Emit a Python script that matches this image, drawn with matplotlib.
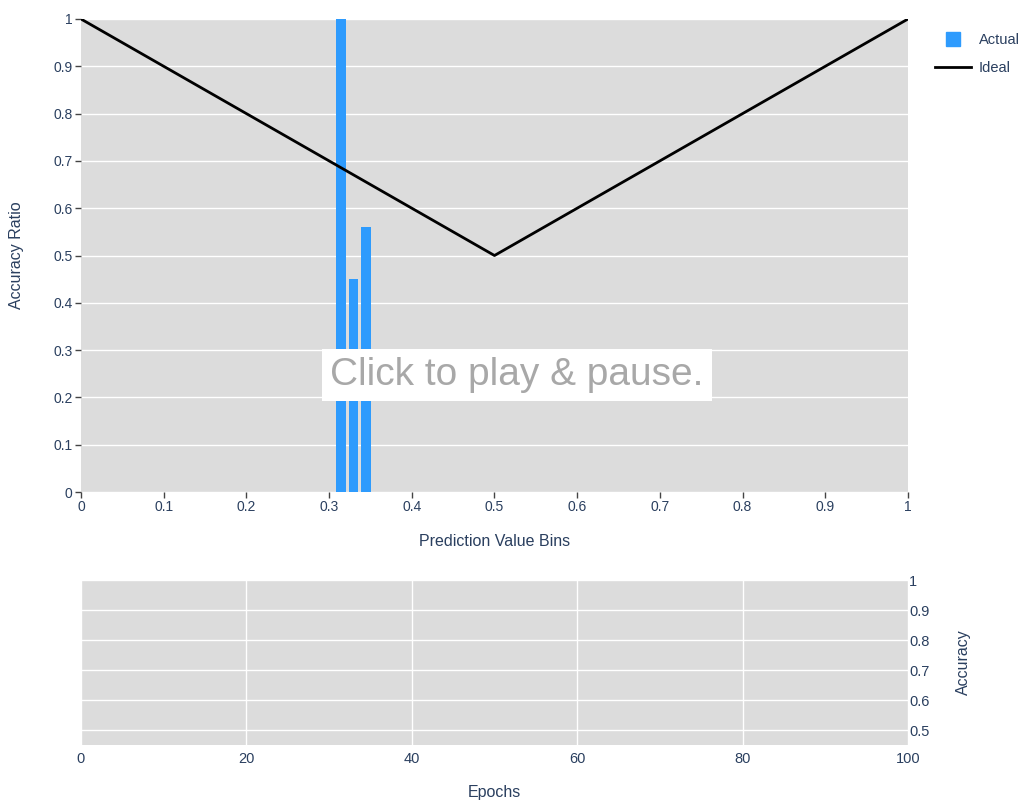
import matplotlib.pyplot as plt
from matplotlib.ticker import FuncFormatter
from matplotlib.lines import Line2D

plt.rcParams['font.family'] = ['Liberation Sans', 'DejaVu Sans']

# data
bin_centers = [0.3145, 0.3295, 0.3445]
bin_acc = [1.0, 0.45, 0.56]
ideal_x = [0, 0.5, 1]
ideal_y = [1, 0.5, 1]
x_ticks = [0, 0.1, 0.2, 0.3, 0.4, 0.5, 0.6, 0.7, 0.8, 0.9, 1]
y_ticks = [0, 0.1, 0.2, 0.3, 0.4, 0.5, 0.6, 0.7, 0.8, 0.9, 1]
epoch_ticks = [0, 20, 40, 60, 80, 100]
acc_ticks = [0.5, 0.6, 0.7, 0.8, 0.9, 1]

txt = '#2a3f5f'
bg = '#dcdcdc'
bar_col = '#2e9bfd'

fig = plt.figure(figsize=(10.24, 8.05), dpi=100)
fmt = FuncFormatter(lambda v, p: '%g' % round(v, 2))

# top plot
ax = fig.add_axes([0.0791, 0.3888, 0.8076, 0.5876])
ax.set_facecolor(bg)
for s in ax.spines.values():
    s.set_visible(False)
ax.set_axisbelow(True)
ax.grid(True, axis='y', color='white', linewidth=1)
ax.bar(bin_centers, bin_acc, width=0.0118, color=bar_col, label='Actual')
ax.plot(ideal_x, ideal_y, color='black', linewidth=2, label='Ideal')
ax.set_xlim(0, 1)
ax.set_ylim(0, 1)
ax.set_xticks(x_ticks)
ax.set_yticks(y_ticks)
ax.xaxis.set_major_formatter(fmt)
ax.yaxis.set_major_formatter(fmt)
ax.tick_params(axis='both', labelsize=10, colors='#444444', labelcolor=txt, length=4, width=1, pad=2)
ax.set_xlabel('Prediction Value Bins', fontsize=11.5, color=txt, labelpad=14)
ax.set_ylabel('Accuracy Ratio', fontsize=11.5, color=txt, labelpad=21)

handles = [Line2D([0], [0], marker='s', markersize=10, color=bar_col, linestyle='none'),
           Line2D([0], [0], color='black', linewidth=2)]
fig.legend(handles, ['Actual', 'Ideal'], loc='upper left', bbox_to_anchor=(0.9, 0.975),
           frameon=False, fontsize=10.5, labelcolor=txt, handlelength=2.5,
           handletextpad=0.5, labelspacing=0.95)

ax.text(0.527, 0.247, 'Click to play & pause.', transform=ax.transAxes,
        ha='center', va='center', fontsize=28, color='#a8a8a8',
        bbox=dict(facecolor='white', edgecolor='none', pad=6))

# bottom plot
ax2 = fig.add_axes([0.0791, 0.0745, 0.8076, 0.2050])
ax2.set_facecolor(bg)
for s in ax2.spines.values():
    s.set_visible(False)
ax2.grid(True, color='white', linewidth=1)
ax2.set_xlim(0, 100)
ax2.set_ylim(0.45, 1)
ax2.set_xticks(epoch_ticks)
ax2.set_yticks(acc_ticks)
ax2.yaxis.tick_right()
ax2.yaxis.set_label_position('right')
ax2.xaxis.set_major_formatter(fmt)
ax2.yaxis.set_major_formatter(fmt)
ax2.tick_params(axis='both', labelsize=10.5, colors='#444444', labelcolor=txt, length=0, pad=5)
ax2.tick_params(axis='y', pad=1)
ax2.set_xlabel('Epochs', fontsize=11.5, color=txt, labelpad=14)
ax2.set_ylabel('Accuracy', fontsize=11.5, color=txt, labelpad=19)

fig.savefig('out.png', dpi=100)
